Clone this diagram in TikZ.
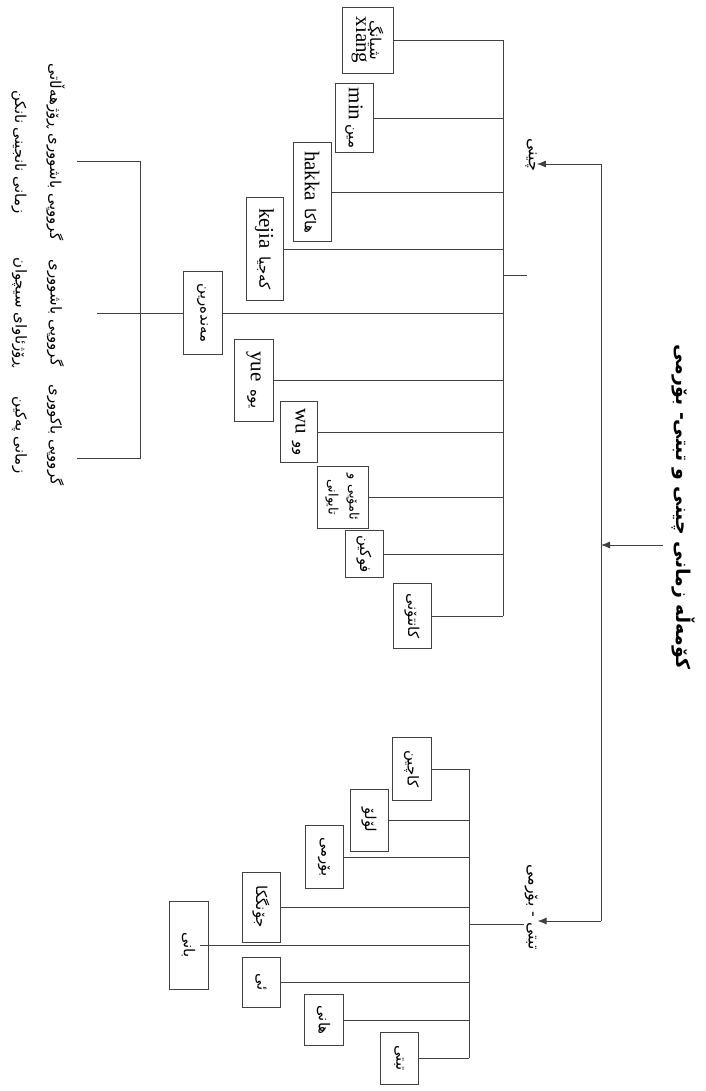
\documentclass[tikz,border=0pt]{standalone}
\usepackage{fontspec}
\usepackage{xcolor}
\usetikzlibrary{arrows.meta}
\setmainfont{Liberation Serif}
\newfontfamily\arabicfont[Script=Arabic]{DejaVu Sans}
\TeXXeTstate=1
\newcommand{\kur}[1]{{\arabicfont\beginR #1\endR}}
\newcommand{\lat}[1]{{\fontsize{21}{24}\selectfont #1}}

\begin{document}
\begin{tikzpicture}[x=1pt,y=1pt]
	\tikzstyle{every node}+=[inner sep=0pt]
	\tikzstyle{wire}=[black!75, line width=0.8pt]
	\tikzstyle{head}=[-{Latex[length=9pt,width=7pt]}]
	\tikzstyle{lang}=[draw=black!75, line width=0.8pt, rotate=-90, minimum height=38pt, align=center, font=\fontsize{15}{20}\selectfont]
	\tikzstyle{group}=[rotate=-90, align=center, font=\fontsize{15}{35}\selectfont]
	\useasboundingbox (0,0) rectangle (705,-1091);
	% title and the two branches
	\node [rotate=-90, font=\fontsize{19}{24}\selectfont\bfseries] (title) at (683,-507) {\kur{کۆمەڵە زمانی چینی و تبتی- بۆرمی}};
	\node [rotate=-90, font=\fontsize{16}{18}\selectfont] (chinese) at (531,-155) {\kur{چینی}};
	\node [rotate=-90, font=\fontsize{16}{18}\selectfont] (tibbur) at (531,-907) {\kur{تبتی - بۆرمی}};
	\coordinate (roottop) at (601,-164);
	\coordinate (rootmid) at (601,-545);
	\coordinate (rootbot) at (601,-921);
	\draw [wire] (roottop) -- (rootbot);
	\draw [wire, head] ([xshift=-8pt]title.south |- rootmid) -- (rootmid);
	\draw [wire, head] (roottop) -- (chinese.north |- roottop);
	\draw [wire, head] (rootbot) -- (tibbur.north |- rootbot);
	% chinese languages
	\node [lang, minimum width=66pt, minimum height=51pt] (xiang) at (367.5,-40) {\kur{شیانگ}\\[-6pt]\lat{xiang}};
	\node [lang, minimum width=69pt] (min) at (354,-118) {\lat{min}\ \kur{مین}};
	\node [lang, minimum width=99pt] (hakka) at (312,-192) {\lat{hakka}\ \ \kur{هاکا}};
	\node [lang, minimum width=103pt, minimum height=37pt] (kejia) at (264.5,-249) {\lat{kejia}\ \ \kur{کەجیا}};
	\node [lang, minimum width=83pt, minimum height=39pt] (mandarin) at (202.5,-313) {\kur{مەندەرین}};
	\node [lang, minimum width=82pt, minimum height=39pt] (yue) at (253.5,-380) {\lat{yue}\ \ \kur{یوە}};
	\node [lang, minimum width=61pt, minimum height=37pt] (wu) at (298.5,-432) {\lat{wu}\ \ \kur{وو}};
	\node [lang, minimum width=62pt, minimum height=51pt, font=\fontsize{13}{21}\selectfont] (amoy) at (342.5,-497) {\kur{ئامۆیی و}\\\kur{تایوانی}};
	\node [lang, minimum width=47pt] (fukien) at (364,-554) {\kur{فوکین}};
	\node [lang, minimum width=65pt] (canton) at (412,-616) {\kur{کانتۆنی}};
	\coordinate (cbus) at (503,0);
	\coordinate (cstub) at (527,-275);
	\draw [wire] (xiang.north) -- (xiang.north -| cbus);
	\draw [wire] (min.north) -- (min.north -| cbus);
	\draw [wire] (hakka.north) -- (hakka.north -| cbus);
	\draw [wire] (kejia.north) -- (kejia.north -| cbus);
	\draw [wire] (mandarin.north) -- (mandarin.north -| cbus);
	\draw [wire] (yue.north) -- (yue.north -| cbus);
	\draw [wire] (wu.north) -- (wu.north -| cbus);
	\draw [wire] (amoy.north) -- (amoy.north -| cbus);
	\draw [wire] (fukien.north) -- (fukien.north -| cbus);
	\draw [wire] (canton.north) -- (canton.north -| cbus);
	\draw [wire] (xiang.north -| cbus) -- (canton.north -| cbus);
	\draw [wire] (cstub -| cbus) -- (cstub);
	% mandarin groups
	\node [group] (south) at (38,-152) {\kur{گرووپی باشووری ڕۆژهەڵاتی}\\\kur{زمانی نانجینی نانکن}};
	\node [group] (southwest) at (38,-313) {\kur{گرووپی باشووری}\\\kur{ڕۆژئاوای سیچوان}};
	\node [group] (north) at (38,-435) {\kur{گرووپی باکووری}\\\kur{زمانی پەکین}};
	\coordinate (btop) at (77,-161);
	\coordinate (bmid) at (97,-313);
	\coordinate (bbot) at (77,-458);
	\coordinate (bbar) at (140,0);
	\draw [wire] (btop) -- (btop -| bbar) -- (bbot -| bbar) -- (bbot);
	\draw [wire] (mandarin.south) -- (bmid);
	% tibeto-burman languages
	\node [lang, minimum width=63pt, minimum height=39pt] (kachin) at (411.5,-769) {\kur{کاچین}};
	\node [lang, minimum width=62pt] (lolo) at (369,-820) {\kur{لۆلۆ}};
	\node [lang, minimum width=63pt] (burmese) at (324,-857) {\kur{بۆرمی}};
	\node [lang, minimum width=70pt] (dzongkha) at (261,-907) {\kur{جۆنگکا}};
	\node [lang, minimum width=88pt, minimum height=39pt] (bai) at (188.5,-945) {\kur{بانی}};
	\node [lang, minimum width=50pt] (yi) at (261,-982) {\kur{ئی}};
	\node [lang, minimum width=51pt, minimum height=39pt] (hani) at (323.5,-1020) {\kur{هانی}};
	\node [lang, minimum width=52pt] (tibetan) at (399,-1058) {\kur{تبتی}};
	\coordinate (tbus) at (469,0);
	\coordinate (tstub) at (469,-924);
	\draw [wire] (kachin.north) -- (kachin.north -| tbus);
	\draw [wire] (lolo.north) -- (lolo.north -| tbus);
	\draw [wire] (burmese.north) -- (burmese.north -| tbus);
	\draw [wire] (dzongkha.north) -- (dzongkha.north -| tbus);
	\draw [wire] ([xshift=-8pt]bai.north) -- (bai.north -| tbus);
	\draw [wire] (yi.north) -- (yi.north -| tbus);
	\draw [wire] (hani.north) -- (hani.north -| tbus);
	\draw [wire] (tibetan.north) -- (tibetan.north -| tbus);
	\draw [wire] (kachin.north -| tbus) -- (tibetan.north -| tbus);
	\draw [wire] (tstub) -- (tibbur.south |- tstub);
\end{tikzpicture}
\end{document}
